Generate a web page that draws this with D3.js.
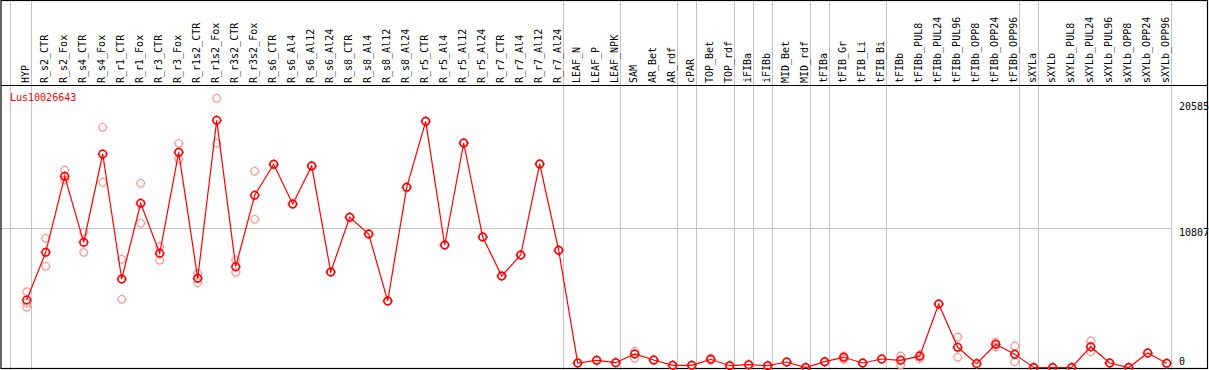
<!DOCTYPE html>
<html>
<head>
<meta charset="utf-8">
<script src="https://cdn.jsdelivr.net/npm/d3@7"></script>
<style>
  html, body { margin: 0; padding: 0; background: #fff; }
  svg { display: block; }
  text { font-family: "DejaVu Sans Mono", "Liberation Mono", monospace; font-size: 10px; }
</style>
</head>
<body>
<svg id="chart" width="1209" height="370"></svg>
<script>
const categories = ["HYP","R_s2_CTR","R_s2_Fox","R_s4_CTR","R_s4_Fox","R_r1_CTR","R_r1_Fox","R_r3_CTR","R_r3_Fox",
  "R_r1s2_CTR","R_r1s2_Fox","R_r3s2_CTR","R_r3s2_Fox","R_s6_CTR","R_s6_Al4","R_s6_Al12","R_s6_Al24",
  "R_s8_CTR","R_s8_Al4","R_s8_Al12","R_s8_Al24","R_r5_CTR","R_r5_Al4","R_r5_Al12","R_r5_Al24",
  "R_r7_CTR","R_r7_Al4","R_r7_Al12","R_r7_Al24","LEAF_N","LEAF_P","LEAF_NPK","SAM","AR_Bet","AR_rdf",
  "cPAR","TOP_Bet","TOP_rdf","iFIBa","iFIBb","MID_Bet","MID_rdf","tFIBa","tFIB_Gr","tFIB_Li","tFIB_Bi",
  "tFIBb","tFIBb_PUL8","tFIBb_PUL24","tFIBb_PUL96","tFIBb_OPP8","tFIBb_OPP24","tFIBb_OPP96","sXYLa",
  "sXYLb","sXYLb_PUL8","sXYLb_PUL24","sXYLb_PUL96","sXYLb_OPP8","sXYLb_OPP24","sXYLb_OPP96"];

const means = [5239,8942,14841,9718,16572,6869,12745,8864,16704,6924,19188,7824,13366,15772,12691,15640,7413,
  11658,10362,5162,13987,19110,9508,17426,10129,7102,8732,15796,9097,349,559,373,1048,582,171,171,636,140,217,
  140,427,0,450,792,349,660,560,880,4929,1568,300,1801,1030,0,0,0,1615,349,0,1125,326];

const rep1 = [5884,10028,15330,10494,18644,8398,14298,9377,17402,7312,20895,8344,15229,15772,12691,15640,7413,
  11658,10362,5162,13987,19110,9508,17426,10129,7102,8732,15796,9097,349,559,373,1257,582,171,171,700,140,217,
  140,427,0,450,893,349,660,893,990,4929,2360,300,1960,1669,0,0,0,2057,349,0,1125,326];

const rep2 = [4673,7855,14554,8942,14375,5294,11193,8321,16160,6582,17402,7390,11503,15772,12691,15640,7413,
  11658,10362,5162,13987,19110,9508,17426,10129,7102,8732,15796,9097,349,559,373,714,582,171,171,580,140,217,
  140,427,0,450,636,349,660,195,680,4929,792,300,1600,430,0,0,0,1226,349,0,1125,326];

const rep3 = [5006,8942,14841,9718,16572,6869,12745,8864,16704,6924,19188,7824,13366,15772,12691,15640,7413,
  11658,10362,5162,13987,19110,9508,17426,10129,7102,8732,15796,9097,349,559,373,1048,582,171,171,636,140,217,
  140,427,0,450,792,349,660,582,880,4929,1568,300,1801,1048,0,0,0,1615,349,0,1125,326];

const groupEnds = ["HYP","R_r7_Al24","LEAF_NPK","AR_rdf","cPAR","TOP_rdf","iFIBa","iFIBb","MID_rdf","tFIBa",
  "tFIB_Bi","tFIBb_OPP96","sXYLa","sXYLb_OPP96"];
const tickValues = [0, 10807, 20585];
const geneName = "Lus10026643";

const W = 1209, H = 370;
const svg = d3.select("#chart");

const x = d3.scalePoint().domain(categories).range([26.7, 1166.7]);
const y = d3.scaleLinear().domain([0, 20585]).range([367.5, 102.3]);

const gray = "#c4c4c4";
const red = "#ff0000";
const pink = "#f09a9a";

// vertical separators
svg.append("line").attr("x1", 10.5).attr("x2", 10.5).attr("y1", 0).attr("y2", H)
  .attr("stroke", gray).attr("stroke-width", 1);
svg.selectAll("line.sep").data(groupEnds).enter().append("line")
  .attr("class", "sep")
  .attr("x1", d => Math.round(x(d) + 3.8) + 0.5)
  .attr("x2", d => Math.round(x(d) + 3.8) + 0.5)
  .attr("y1", 0).attr("y2", H)
  .attr("stroke", gray).attr("stroke-width", 1);

// horizontal gridline at middle tick
svg.append("line")
  .attr("x1", 1).attr("x2", Math.round(x("sXYLb_OPP96") + 3.8) + 0.5)
  .attr("y1", Math.round(y(tickValues[1])) + 0.5).attr("y2", Math.round(y(tickValues[1])) + 0.5)
  .attr("stroke", gray).attr("stroke-width", 1);

// frame
svg.append("rect").attr("x", 1).attr("y", 0.5).attr("width", W - 2.5).attr("height", H - 2)
  .attr("fill", "none").attr("stroke", "#000").attr("stroke-width", 1.2);
svg.append("line").attr("x1", 1).attr("x2", W - 1).attr("y1", 85.5).attr("y2", 85.5)
  .attr("stroke", "#000").attr("stroke-width", 1);

// category labels
svg.selectAll("text.cat").data(categories).enter().append("text")
  .attr("class", "cat")
  .attr("transform", d => `translate(${x(d) + 2},83) rotate(-90)`)
  .attr("fill", "#000")
  .text(d => d);

// value labels on right
svg.selectAll("text.tick").data(tickValues).enter().append("text")
  .attr("class", "tick")
  .attr("x", 1179)
  .attr("y", (d, i) => i === 0 ? y(d) - 2.5 : y(d) + 8)
  .attr("fill", "#000")
  .text(d => d);

// gene name
svg.append("text").attr("x", 10).attr("y", 101).attr("fill", red).text(geneName);

// marker drawing
function marker(g, color, sw) {
  g.append("circle").attr("r", 3.8).attr("fill", "none").attr("stroke", color).attr("stroke-width", sw);
  const t = [[0,-4.2,0,-5],[0,4.2,0,5],[-4.2,0,-5,0],[4.2,0,5,0]];
  t.forEach(s => g.append("line").attr("x1", s[0]).attr("y1", s[1]).attr("x2", s[2]).attr("y2", s[3])
    .attr("stroke", color).attr("stroke-width", 1));
}

// replicate markers
const reps = [rep1, rep2, rep3];
reps.forEach(arr => {
  arr.forEach((v, i) => {
    const g = svg.append("g").attr("transform", `translate(${x(categories[i])},${y(v)})`);
    marker(g, pink, 1.2);
  });
});

// mean line
const line = d3.line().x((d, i) => x(categories[i])).y(d => y(d));
svg.append("path").datum(means).attr("d", line)
  .attr("fill", "none").attr("stroke", red).attr("stroke-width", 1.2);

// mean markers
means.forEach((v, i) => {
  const g = svg.append("g").attr("transform", `translate(${x(categories[i])},${y(v)})`);
  marker(g, red, 1.5);
});
</script>
</body>
</html>
